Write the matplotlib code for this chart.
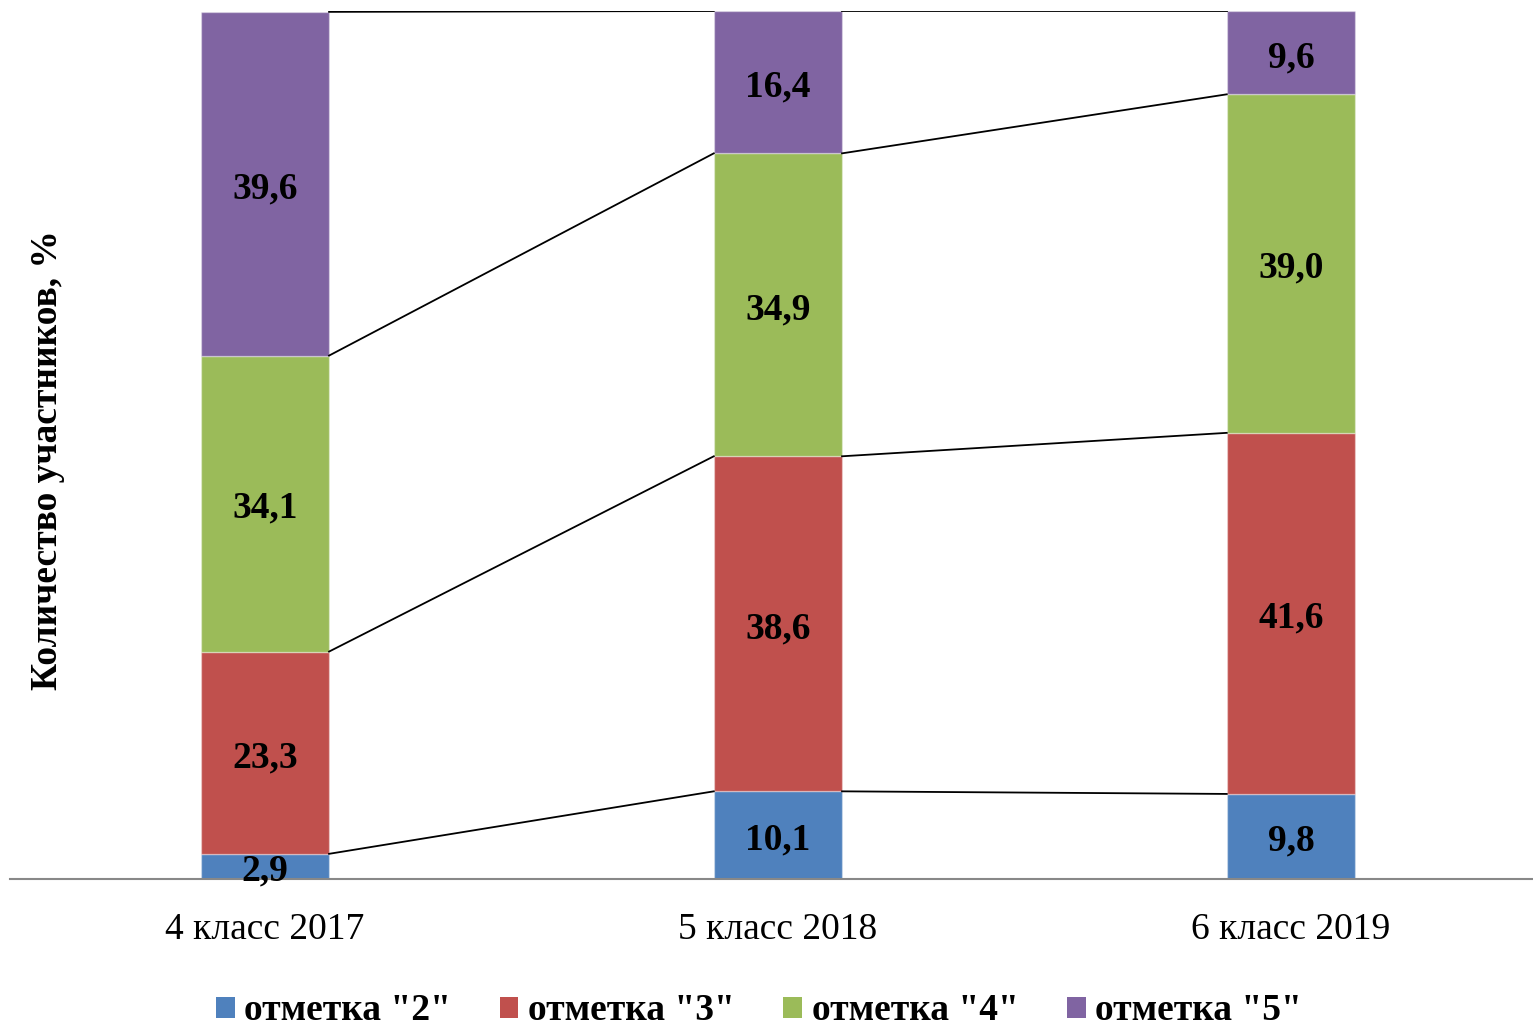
import matplotlib
matplotlib.use("Agg")
import matplotlib.pyplot as plt
import numpy as np
from matplotlib.patches import Patch

categories = ["4 класс 2017", "5 класс 2018", "6 класс 2019"]
series_names = ['отметка "2"', 'отметка "3"', 'отметка "4"', 'отметка "5"']
mark2 = [2.9, 10.1, 9.8]
mark3 = [23.3, 38.6, 41.6]
mark4 = [34.1, 34.9, 39.0]
mark5 = [39.6, 16.4, 9.6]
colors = ["#4F81BD", "#C0504D", "#9BBB59", "#8064A2"]

series = [mark2, mark3, mark4, mark5]

plt.rcParams['font.family'] = ['Liberation Serif', 'DejaVu Serif']

fig = plt.figure(figsize=(15.33, 10.29), dpi=100)
ax = fig.add_axes([10/1533, 1 - 879/1029, 1523/1533, 868/1029])

x = np.arange(len(categories))
w = 0.25
bottom = np.zeros(len(categories))
tops = []
for vals, col, name in zip(series, colors, series_names):
    v = np.array(vals)
    ax.bar(x, v, w, bottom=bottom, color=col, edgecolor=(1, 1, 1, 0.35), linewidth=1, label=name, zorder=2)
    for xi, vi, bi in zip(x, v, bottom):
        ax.annotate(f"{vi:.1f}".replace(".", ","), (xi, bi + vi / 2), xytext=(0, -3.5),
                    textcoords="offset points", ha="center", va="center",
                    fontsize=27, fontweight="bold", color="black", zorder=4)
    bottom = bottom + v
    tops.append(bottom.copy())

# series connector lines
for t in tops:
    for i in range(len(categories) - 1):
        ax.plot([x[i] + w / 2, x[i + 1] - w / 2], [t[i], t[i + 1]], color="black", lw=1.3, zorder=3)

ax.set_xlim(-0.497, 2.472)
ax.set_ylim(0, 100)
for s in ["top", "right", "left"]:
    ax.spines[s].set_visible(False)
ax.spines["bottom"].set_color("#888888")
ax.spines["bottom"].set_linewidth(1.5)
ax.set_yticks([])
ax.set_xticks(x)
ax.set_xticklabels(categories, fontsize=27)
ax.tick_params(axis="x", length=0, pad=24)

fig.text(48/1533, 1 - 460/1029, "Количество участников, %", rotation=90, ha="center", va="center",
         fontsize=27, fontweight="bold")

handles = [Patch(facecolor=c, edgecolor="none") for c in colors]
leg = fig.legend(handles, series_names, loc="center", bbox_to_anchor=(759/1533, 1 - 1011/1029),
                 ncol=4, frameon=False, prop={"size": 27, "weight": "bold"},
                 handlelength=0.5, handleheight=0.5, handletextpad=0.25, columnspacing=1.3)

fig.savefig("out.png", dpi=100)
